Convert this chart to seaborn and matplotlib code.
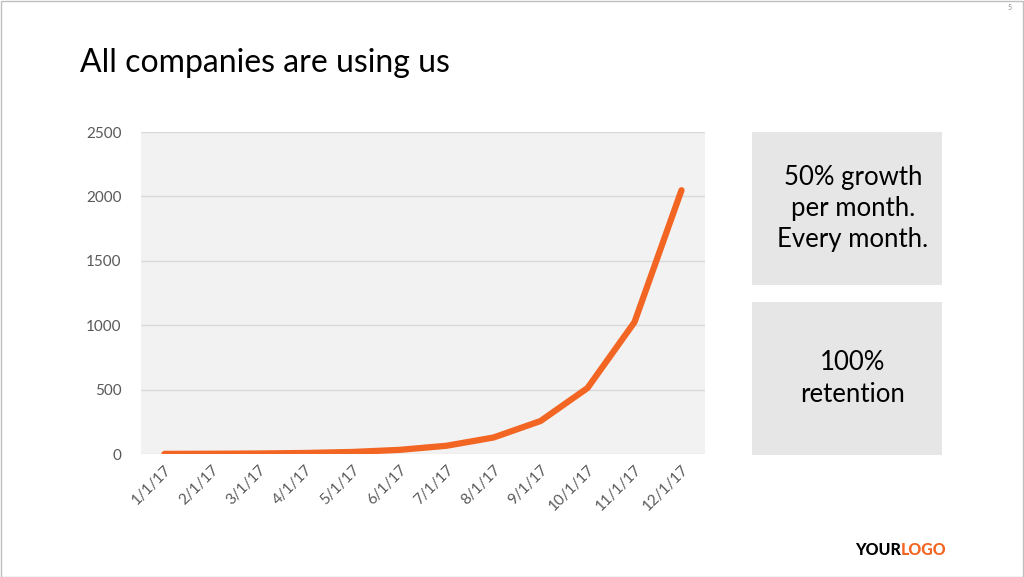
import pandas as pd
import matplotlib.pyplot as plt
from matplotlib.patches import Rectangle
import seaborn as sns

months = ["1/1/17", "2/1/17", "3/1/17", "4/1/17", "5/1/17", "6/1/17",
          "7/1/17", "8/1/17", "9/1/17", "10/1/17", "11/1/17", "12/1/17"]
companies = [1, 2, 4, 8, 16, 32, 64, 128, 256, 512, 1024, 2048]
y_ticks = [0, 500, 1000, 1500, 2000, 2500]

title = "All companies are using us"
box_texts = ["50% growth\nper month.\nEvery month.", "100%\nretention"]

df = pd.DataFrame({"month": months, "companies": companies})

sns.set_theme(style="white")
plt.rcParams["font.family"] = ["Lato", "DejaVu Sans"]

W, H = 1024, 577
fig = plt.figure(figsize=(W / 100, H / 100), dpi=100)
fig.patch.set_facecolor("white")

# slide border
fig.add_artist(Rectangle((0.5 / W, 0.5 / H), 1 - 1.5 / W, 1 - 1.5 / H,
                         transform=fig.transFigure, fill=False,
                         edgecolor="#bfbfbf", linewidth=1))

ax = fig.add_axes([141 / W, 1 - 454 / H, (705 - 141) / W, (454 - 132) / H])
ax.set_facecolor("#f2f2f2")

sns.lineplot(data=df, x="month", y="companies", sort=False, ax=ax,
             color="#f26522", linewidth=4.5, solid_capstyle="round")

ax.set_xlim(-0.5, len(months) - 0.5)
ax.set_ylim(0, 2500)
ax.set_yticks(y_ticks)
ax.set_yticklabels([str(t) for t in y_ticks])
ax.set_xticks(range(len(months)))
ax.set_xticklabels(months, rotation=45, ha="right", rotation_mode="anchor")
ax.tick_params(axis="both", labelsize=11, colors="#595959", length=0)
ax.tick_params(axis="y", pad=14)
ax.tick_params(axis="x", pad=6)
ax.yaxis.grid(True, color="#d9d9d9", linewidth=1)
ax.set_axisbelow(True)
ax.set_xlabel("")
ax.set_ylabel("")
for s in ax.spines.values():
    s.set_visible(False)

fig.text(80 / W, 1 - 63 / H, title, fontsize=23, color="black",
         va="center", ha="left")

# side boxes
boxes = [(752, 132, 942, 285), (752, 302, 942, 455)]
for (x0, y0, x1, y1), txt in zip(boxes, box_texts):
    fig.add_artist(Rectangle((x0 / W, 1 - y1 / H), (x1 - x0) / W, (y1 - y0) / H,
                             transform=fig.transFigure, facecolor="#e6e6e6",
                             edgecolor="none"))
    fig.text((x0 + x1) / 2 / W + 6 / W, 1 - (y0 + y1) / 2 / H, txt,
             fontsize=18.5, ha="center", va="center", color="black",
             linespacing=1.3)

# logo and page number
logo1 = fig.text(855 / W, 1 - 550 / H, "YOUR", fontsize=11.5, fontweight="black",
                 color="black", ha="left", va="center")
ax.annotate("LOGO", xy=(1, 0), xycoords=logo1, fontsize=11.5, fontweight="black",
            color="#f26522", ha="left", va="bottom", annotation_clip=False)
fig.text(1010 / W, 1 - 8 / H, "5", fontsize=5, color="#8c8c8c",
         ha="center", va="center")

fig.savefig("out.png", dpi=100)
